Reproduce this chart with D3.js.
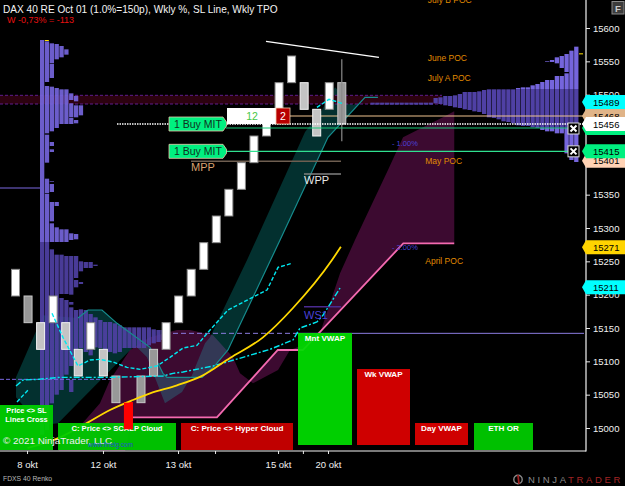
<!DOCTYPE html>
<html>
<head>
<meta charset="utf-8">
<script src="https://d3js.org/d3.v7.min.js"></script>
<style>
    html, body { margin: 0; padding: 0; background: #000; overflow: hidden; }
    text { font-family: "Liberation Sans", Arial, sans-serif; }
</style>
</head>
<body>
<svg id="chart" width="625" height="486"></svg>
<script>
// renko bricks: [low, high] per bar, kind picks the colour
var barLows = [15198, 15158, 15118, 15158, 15118, 15078, 15118, 15078, 15038, 14998, 15038, 15078, 15118, 15158, 15198, 15238, 15278, 15318, 15358, 15398, 15438, 15478, 15518, 15478, 15438, 15478, 15456];
var barHighs = [15238, 15198, 15158, 15198, 15158, 15118, 15158, 15118, 15078, 15038, 15078, 15118, 15158, 15198, 15238, 15278, 15318, 15358, 15398, 15438, 15478, 15518, 15558, 15518, 15478, 15518, 15518];
var barKinds = ["up", "dn", "lt", "up", "lt", "lt", "up", "lt", "dn", "red", "dn", "dn", "up", "up", "up", "up", "up", "up", "up", "up", "up", "up", "up", "lt", "lt", "up", "dn"];
var lastWick = [15430, 15553];

// left volume profile, one list of [low, high] per column
var leftProfile = [
    [[14990, 15582]],
    [[15519, 15580], [15442, 15513], [15398, 15440], [15352, 15374], [14997, 15351]],
    [[15547, 15577], [15525, 15546], [15445, 15512], [15423, 15429], [15414, 15418], [15369, 15370], [15354, 15366], [15310, 15339], [15279, 15307], [15037, 15268]],
    [[15553, 15576], [15450, 15510], [15333, 15339], [15279, 15301], [15050, 15260]],
    [[15556, 15573], [15456, 15508], [15279, 15298], [15201, 15260], [15057, 15195]],
    [[15560, 15568], [15456, 15508], [15279, 15298], [15201, 15258], [15080, 15192]],
    [[15492, 15502], [15466, 15487], [15456, 15465], [15282, 15292], [15200, 15258], [15185, 15189], [15093, 15181], [15054, 15072]],
    [[15490, 15498], [15466, 15484], [15457, 15462], [15283, 15291], [15225, 15258], [15211, 15222], [15106, 15177]],
    [[15469, 15484], [15235, 15250], [15216, 15219], [15120, 15178]],
    [[15240, 15249], [15114, 15177]],
    [[15240, 15249], [15109, 15171]],
    [[15243, 15245], [15121, 15166]],
    [[15120, 15162]],
    [[15117, 15159]],
    [[15114, 15159]],
    [[15112, 15157]],
    [[15114, 15154]],
    [[15120, 15151]],
    [[15120, 15151]],
    [[15120, 15151]],
    [[15120, 15151]],
    [[15120, 15151]],
    [[15124, 15151]],
    [[15127, 15148]],
    [[15129, 15147]],
    [[15132, 15147]]
];

// right volume profile, right-most column first
var rightProfile = [
    [[15399, 15572]],
    [[15402, 15566]],
    [[15534, 15561], [15412, 15532]],
    [[15540, 15558], [15442, 15528]],
    [[15547, 15556], [15442, 15528]],
    [[15549, 15552], [15445, 15522]],
    [[15549, 15550], [15445, 15522]],
    [[15447, 15519]],
    [[15450, 15516]],
    [[15451, 15514]],
    [[15453, 15511]],
    [[15453, 15511]],
    [[15454, 15510]],
    [[15457, 15508]],
    [[15459, 15508]],
    [[15460, 15508]],
    [[15463, 15508]],
    [[15465, 15508]],
    [[15466, 15508]],
    [[15471, 15507]],
    [[15474, 15505]],
    [[15475, 15504]],
    [[15477, 15504]],
    [[15478, 15504]],
    [[15480, 15501]],
    [[15481, 15499]],
    [[15483, 15498]],
    [[15484, 15498]],
    [[15486, 15496]],
    [[15487, 15495]],
    [[15485, 15488]], [[15485, 15488]], [[15485, 15488]], [[15485, 15488]],
    [[15485, 15488]], [[15485, 15488]], [[15485, 15488]], [[15485, 15488]],
    [[15485, 15488]], [[15485, 15488]], [[15485, 15488]], [[15485, 15488]],
    [[15485, 15488]]
];

// lines as [bar index, price]
var pinkLine = [[9.3, 15016], [16.05, 15016], [20.9, 15117], [22.9, 15117], [30.9, 15277], [34.96, 15277]];
var cloudEdge = [[3.39, 14965], [6.73, 15037], [7.53, 15072], [9.12, 15117], [10.72, 15136], [12.87, 15147], [13.9, 15147], [15.74, 15139], [17.33, 15106], [17.89, 15082], [18.92, 15067], [20.92, 15087], [21.87, 15117], [22.91, 15124], [24.26, 15142], [25.86, 15232], [27.05, 15282], [29.68, 15387], [30.88, 15436], [34.06, 15466], [34.96, 15475]];
var tealLine = [[4.98, 15165], [5.78, 15177], [6.89, 15177], [8.09, 15157], [10.72, 15121], [11.75, 15082], [12.07, 15076], [14.86, 15076], [15.9, 15094], [16.93, 15117], [21.08, 15282], [24.9, 15436], [27.85, 15496], [28.88, 15496]];
var tealLead = [[0.04, 15076], [2.19, 15169], [4.98, 15165]];
var tealEdge = [[27.85, 15496], [26.89, 15484], [25.46, 15511], [24.26, 15472], [23.07, 15444], [18.45, 15252], [15.5, 15136], [15.1, 15127], [14.06, 15079], [13.27, 15054], [11.91, 15037], [10.48, 15106], [9.52, 15124], [3.39, 15007], [1.95, 15004], [0.04, 15046]];
var yellowLine = [[0.96, 14970], [3.55, 14986], [5.38, 15004], [7.53, 15027], [9.36, 15042], [10.72, 15052], [12.87, 15064], [14.94, 15079], [17.09, 15105], [19.72, 15136], [22.11, 15180], [25.22, 15252], [25.93, 15272]];
var cyanDash = [[2.91, 15172], [3.78, 15136], [4.98, 15093], [5.94, 15102], [6.73, 15103], [7.77, 15099], [8.88, 15091], [9.92, 15088], [11.27, 15093], [12.31, 15106], [13.35, 15120], [14.46, 15124], [15.5, 15147], [16.93, 15177], [20.04, 15207], [20.92, 15241], [22.03, 15247]];
var cyanShort = [[24.02, 15481], [24.98, 15493], [26.02, 15487]];
var cyanLow = [[0.12, 15039], [1.0, 15057]];
var cyanDashDot = [[0.04, 15063], [0.6, 15072], [1.8, 15073], [3.55, 15076], [7.53, 15076], [11.75, 15078], [12.55, 15082], [13.35, 15084], [15.74, 15093], [18.13, 15106], [20.28, 15118], [22.11, 15132], [22.67, 15150], [24.02, 15159], [24.5, 15169], [25.86, 15210]];
var whiteTrend = [[19.96, 15580], [28.96, 15556]];

var priceTicks = [15600, 15550, 15500, 15450, 15400, 15350, 15300, 15250, 15200, 15150, 15100, 15050, 15000];
var timeTicks = [0.92, 6.97, 12.95, 15.9, 20.92, 22.9, 24.9];
var timeLabels = ["8 okt", "12 okt", "13 okt", "", "15 okt", "", "20 okt"];

// price tags on the axis, later ones sit on top
var tagPrices = [15468, 15450, 15456, 15489, 15401, 15415, 15271, 15211];
var tagColors = ["#e0b488", "#00f080", "#ffffff", "#00ffff", "#ffd2b4", "#00f080", "#ffd400", "#00ffff"];
var tagShown = [true, false, true, true, true, true, true, true];

var pocNames = ["July B POC", "June POC", "July A POC", "May POC", "April POC"];
var pocPrices = [15642, 15555, 15525, 15400, 15250];
var pocBars = [32.85, 32.85, 32.85, 32.65, 32.65];

var x = d3.scaleLinear().domain([0, 1]).range([15.5, 28.05]);
var y = d3.scaleLinear().domain([15000, 15600]).range([428, 28]);
var leftCol = d3.scaleLinear().domain([0, 1]).range([40, 44.85]);
var rightCol = d3.scaleLinear().domain([0, 1]).range([579, 574.15]);

var svg = d3.select("#chart");
svg.append("rect").attr("width", 625).attr("height", 486).attr("fill", "#000");

var defs = svg.append("defs");
defs.append("clipPath").attr("id", "plot").append("rect")
    .attr("width", 586).attr("height", 451);

// hard stop gradient, the profile is dimmed in the value area
function profileGradient(id, stops) {
    var g = defs.append("linearGradient").attr("id", id)
        .attr("gradientUnits", "userSpaceOnUse")
        .attr("x1", 0).attr("x2", 0).attr("y1", 0).attr("y2", 486);
    stops.forEach(function (s) {
        g.append("stop").attr("offset", y(s[0]) / 486).attr("stop-color", s[1]);
    });
}
var bright = "#7565dc", dim = "#4f40a4";
profileGradient("leftFill", [[15642, bright], [15279, bright], [15279, dim], [14900, dim]]);
profileGradient("rightFill", [[15642, bright], [15508, bright], [15508, dim], [15450, dim], [15450, bright], [14900, bright]]);

var plot = svg.append("g").attr("clip-path", "url(#plot)");
var line = d3.line().x(function (d) { return x(d[0]); }).y(function (d) { return y(d[1]); });

// clouds
plot.append("path")
    .attr("d", line(cloudEdge.concat(pinkLine.slice().reverse(), [[8.73, 14965]])) + "Z")
    .attr("fill", "#3c0a30");
plot.append("path")
    .attr("d", line(tealLead.concat(tealLine.slice(1), tealEdge)) + "Z")
    .attr("fill", "rgb(15,240,235)").attr("fill-opacity", 0.2);

// maroon band
plot.append("rect")
    .attr("x", 0).attr("width", 442)
    .attr("y", y(15499)).attr("height", y(15486) - y(15499))
    .attr("fill", "#2c0210");
[15499, 15486].forEach(function (p) {
    plot.append("line").attr("x1", 0).attr("x2", 442).attr("y1", y(p)).attr("y2", y(p))
        .attr("stroke", "#5e1c8c").attr("stroke-dasharray", "3,2");
});

function drawProfile(cols, scale, fill, opacity) {
    cols.forEach(function (segs, i) {
        segs.forEach(function (s) {
            plot.append("rect")
                .attr("x", Math.min(scale(i), scale(i + 1)))
                .attr("width", 4.3)
                .attr("y", y(s[1]))
                .attr("height", y(s[0]) - y(s[1]))
                .attr("fill", fill)
                .attr("fill-opacity", opacity);
        });
    });
}
drawProfile(leftProfile, leftCol, "url(#leftFill)", 0.92);
drawProfile(rightProfile, rightCol, "url(#rightFill)", 1);

// poc ticks on the profiles
plot.append("rect").attr("x", leftCol(1)).attr("width", 4).attr("y", y(15582)).attr("height", 1).attr("fill", "#ffe000");
plot.append("rect").attr("x", rightCol(0)).attr("width", 4).attr("y", y(15562)).attr("height", 1).attr("fill", "#ffe000");

// teal line
plot.append("path").attr("d", line(tealLine)).attr("fill", "none")
    .attr("stroke", "#168c8e").attr("stroke-width", 1.2);

// horizontal levels
function level(x0, x1, price, color, width, dash) {
    var l = plot.append("line")
        .attr("x1", x0).attr("x2", x1)
        .attr("y1", y(price)).attr("y2", y(price))
        .attr("stroke", color).attr("stroke-width", width);
    if (dash) l.attr("stroke-dasharray", dash);
}
level(0, 40, 15360, "#7a68e0", 1.2);
level(0, 118, 15073, "#7a68e0", 1, "4,2");
level(165, 298, 15142, "#8b7be0", 1, "5,3");
level(298, 584, 15142, "#8b7be0", 1);
level(191, 341, 15400, "#6e5e50", 1.5);
level(304, 341, 15381, "#808080", 1.5);
level(304, 341, 15182, "#4a2a90", 1.5);
level(290, 586, 15468, "#f0c490", 1.2);

// bricks
var barColor = { up: "#ffffff", dn: "#989898", lt: "#c4c4c4", red: "#ff0000" };
var barStroke = { up: "#8a8a8a", dn: "#c8c8c8", lt: "#f4f4f4", red: "#ff0000" };
plot.selectAll("rect.bar").data(barLows).enter().append("rect")
    .attr("class", "bar")
    .attr("x", function (d, i) { return x(i) - 4; })
    .attr("width", 8)
    .attr("y", function (d, i) { return y(barHighs[i]); })
    .attr("height", function (d, i) { return y(d) - y(barHighs[i]); })
    .attr("fill", function (d, i) { return barColor[barKinds[i]]; })
    .attr("stroke", function (d, i) { return barStroke[barKinds[i]]; });
plot.append("line")
    .attr("x1", x(barLows.length - 1)).attr("x2", x(barLows.length - 1))
    .attr("y1", y(lastWick[1])).attr("y2", y(lastWick[0]))
    .attr("stroke", "#8a8a8a").attr("stroke-width", 1.2);

// moving lines on top of the bricks
plot.append("path").attr("d", line(pinkLine)).attr("fill", "none").attr("stroke", "#f46ab0").attr("stroke-width", 1.8);
[cyanDash, cyanShort, cyanLow].forEach(function (d) {
    plot.append("path").attr("d", line(d)).attr("fill", "none")
        .attr("stroke", "#00e8f0").attr("stroke-width", 1.4).attr("stroke-dasharray", "4,2");
});
plot.append("path").attr("d", line(cyanDashDot)).attr("fill", "none")
    .attr("stroke", "#00e8f0").attr("stroke-width", 1.4).attr("stroke-dasharray", "6,2,2,2");
plot.append("path").attr("d", line(whiteTrend)).attr("fill", "none").attr("stroke", "#fff").attr("stroke-width", 1.4);

// order lines
level(226, 570, 15450, "#18c878", 1.2);
level(226, 570, 15415, "#30e090", 1.2);
level(117, 586, 15456, "#ffffff", 1.4, "1.5,1");

// orders
function buyTag(price) {
    var c = y(price);
    svg.append("path")
        .attr("d", "M169," + (c - 7) + "H223L226.5," + (c - 2) + "V" + (c + 2) + "L223," + (c + 7) + "H169Z")
        .attr("fill", "#00f080").attr("stroke", "#e8c8a8").attr("stroke-width", 0.8);
    svg.append("text").attr("x", 174).attr("y", c + 3.5)
        .attr("font-size", 10.5).attr("fill", "#103020").text("1  Buy MIT");
}
buyTag(15456);
buyTag(15415);

svg.append("rect").attr("x", 227).attr("y", 108).attr("width", 49).attr("height", 16).attr("fill", "#fff");
svg.append("text").attr("x", 252).attr("y", 120).attr("text-anchor", "middle")
    .attr("font-size", 10.5).attr("fill", "#46c846").text("12");
svg.append("rect").attr("x", 276).attr("y", 108).attr("width", 14).attr("height", 16)
    .attr("fill", "#b80000").attr("stroke", "#f0d0b0").attr("stroke-width", 0.8);
svg.append("text").attr("x", 283).attr("y", 120).attr("text-anchor", "middle")
    .attr("font-size", 10.5).attr("fill", "#fff").text("2");

[15450, 15415].forEach(function (p) {
    var c = y(p) + (p == 15450 ? 0.5 : 0);
    svg.append("rect").attr("x", 568).attr("y", c - 5.5).attr("width", 11).attr("height", 11)
        .attr("fill", "#000").attr("stroke", "#d8d8d8").attr("stroke-width", 1);
    svg.append("path").attr("d", "M570.5," + (c - 3) + "L576.5," + (c + 3) + "M576.5," + (c - 3) + "L570.5," + (c + 3))
        .attr("stroke", "#fff").attr("stroke-width", 2);
});

// level captions
function caption(x0, y0, str, size, color, weight) {
    svg.append("text").attr("x", x0).attr("y", y0)
        .attr("font-size", size).attr("fill", color)
        .attr("font-weight", weight || "normal").text(str);
}
pocNames.forEach(function (n, i) {
    caption(x(pocBars[i]), y(pocPrices[i]) + 3, n, 8.5, "#e08a00");
});
caption(191, 171, "MPP", 11, "#d8a070");
caption(304, 184, "WPP", 11, "#e8e8e8");
caption(304, 319, "WS1", 11, "#4a40d8");
caption(392, 146, "- 1.00%", 7.5, "#4a40d8");
caption(392, 250, "- 2.00%", 7.5, "#4a40d8");

// signal panels, slightly see-through like the original
function panel(x0, x1, y0, y1, color, lines, size) {
    svg.append("rect").attr("x", x0).attr("y", y0).attr("width", x1 - x0).attr("height", y1 - y0)
        .attr("fill", color).attr("fill-opacity", 0.94);
    lines.forEach(function (t, i) {
        svg.append("text").attr("x", (x0 + x1) / 2).attr("y", y0 + 8 + i * 8.5)
            .attr("text-anchor", "middle").attr("font-size", size).attr("font-weight", "bold")
            .attr("fill", "#fff").text(t);
    });
}
panel(0, 53, 405, 450, "#00d000", ["Price <> SL", "Lines Cross"], 7.4);
panel(58, 176, 423, 450, "#00cc00", ["C: Price <> SCALP Cloud"], 7.6);
panel(181, 293, 423, 450, "#cc0000", ["C: Price <> Hyper Cloud"], 8.1);
panel(298, 352, 333, 445, "#00dc00", ["Mnt VWAP"], 8.1);
panel(357, 410, 369, 445, "#dc0000", ["Wk VWAP"], 8.1);
panel(415, 468, 423, 445, "#dc0000", ["Day VWAP"], 8.1);
panel(474, 533, 423, 450, "#00cc00", ["ETH OR"], 8.1);

// the red brick and the yellow curve show over the green panel
svg.append("rect").attr("x", x(9) - 4.5).attr("width", 9).attr("y", y(15038)).attr("height", y(14998) - y(15038)).attr("fill", "#ff0000");
plot.append("path").attr("d", line.curve(d3.curveMonotoneX)(yellowLine)).attr("fill", "none")
    .attr("stroke", "#ffd800").attr("stroke-width", 1.8);
line.curve(d3.curveLinear);

caption(3, 444, "\u00a9 2021 NinjaTrader, LLC", 9.9, "#f0f0f0");
caption(88, 447, "www.finelg.com", 6.5, "#2050d8");

// axes
var yAxis = d3.axisRight(y).tickValues(priceTicks).tickSize(4).tickFormat(d3.format("d"));
var yg = svg.append("g").attr("transform", "translate(586,0)").call(yAxis);
var xAxis = d3.axisBottom(x).tickValues(timeTicks).tickSize(3)
    .tickFormat(function (d, i) { return timeLabels[i]; });
var xg = svg.append("g").attr("transform", "translate(0,451)").call(xAxis);
[yg, xg].forEach(function (g) {
    g.select(".domain").remove();
    g.selectAll("line").attr("stroke", "#e8e8e8");
    g.selectAll("text").attr("fill", "#f0f0f0").attr("font-size", 9.5)
        .attr("font-family", "Liberation Sans");
});
yg.selectAll("text").attr("x", 7);
xg.selectAll("text").attr("y", 10);
svg.append("line").attr("x1", 586).attr("x2", 586).attr("y1", 0).attr("y2", 451.5).attr("stroke", "#f4f4f4").attr("stroke-width", 1.2);
svg.append("line").attr("x1", 0).attr("x2", 586).attr("y1", 451).attr("y2", 451).attr("stroke", "#f4f4f4").attr("stroke-width", 1.2);

// tags over the axis
tagPrices.forEach(function (p, i) {
    var c = y(p);
    svg.append("path")
        .attr("d", "M582," + c + "L586," + (c - 7) + "H625V" + (c + 7) + "H586Z")
        .attr("fill", tagColors[i]);
    if (tagShown[i]) {
        svg.append("text").attr("x", 593).attr("y", c + 3.5)
            .attr("font-size", 9.5).attr("fill", "#000").text(p);
    }
});

// header
caption(3, 13, "DAX 40 RE Oct 01 (1.0%=150p), Wkly %, SL Line, Wkly TPO", 10.1, "#f4f4f4");
caption(7, 23, "W -0,73% = -113", 9, "#e81010");

// F button
svg.append("rect").attr("x", 612).attr("y", 1.5).attr("width", 12).attr("height", 12.5)
    .attr("fill", "#3c3c3c").attr("stroke", "#8a8a8a");
svg.append("text").attr("x", 618).attr("y", 12).attr("text-anchor", "middle")
    .attr("font-size", 9.5).attr("font-weight", "bold").attr("fill", "#cccccc").text("F");

// footer
caption(3, 481, "FDXS 40 Renko", 6.8, "#b8b8b8");
svg.append("circle").attr("cx", 518).attr("cy", 479.5).attr("r", 4.2)
    .attr("fill", "none").attr("stroke", "#8a8a8a").attr("stroke-width", 1.4);
svg.append("line").attr("x1", 518).attr("x2", 519).attr("y1", 475).attr("y2", 484)
    .attr("stroke", "#a02020").attr("stroke-width", 1.8);
var logo = svg.append("text").attr("x", 528).attr("y", 483).attr("font-size", 9.5).attr("letter-spacing", 2.65);
logo.append("tspan").attr("fill", "#8a8a8a").text("NINJA");
logo.append("tspan").attr("fill", "#a02424").text("TRADER");
</script>
</body>
</html>
